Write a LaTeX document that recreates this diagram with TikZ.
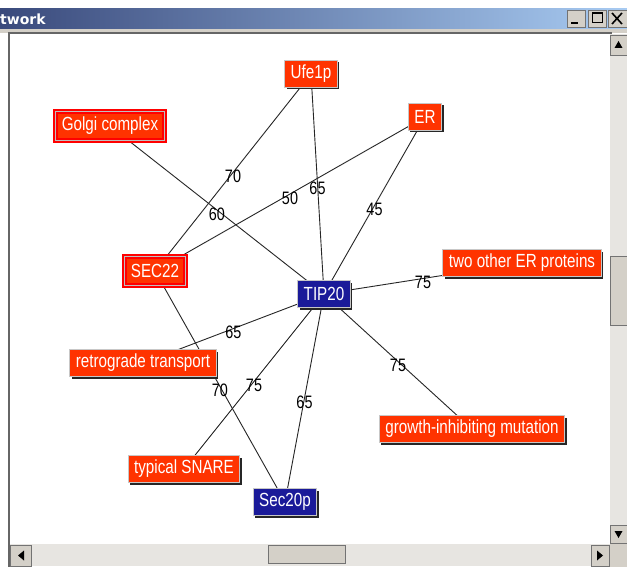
\documentclass[tikz,border=0pt]{standalone}
\usepackage{fontspec}
\setmainfont{Liberation Sans}
\newfontfamily\nodefont[FakeStretch=0.8]{Liberation Sans}
\newfontfamily\titlefont{DejaVu Sans}
\usetikzlibrary{shadows}
\definecolor{netRed}{HTML}{FF3300}
\definecolor{netBlue}{HTML}{1A1A99}
\definecolor{netSel}{HTML}{FF0000}
\definecolor{winGray}{HTML}{D4D0C8}
\definecolor{winTrack}{HTML}{E7E5E1}
\definecolor{barDark}{HTML}{3A4A7C}
\definecolor{barLight}{HTML}{A8CBF2}
\pgfdeclarelayer{chrome}
\pgfdeclarelayer{edges}
\pgfsetlayers{chrome,edges,main}
\tikzset{
  term/.style={rectangle, draw=black!22, line width=1pt, fill=netRed, text=white,
              inner xsep=6pt, inner ysep=0pt, minimum height=27pt,
              font=\nodefont\fontsize{19}{21}\selectfont,
              drop shadow={shadow xshift=2pt, shadow yshift=-2pt, opacity=1, fill=black!85}},
  gene/.style={term, fill=netBlue},
  picked/.style={rectangle, draw=netSel, double=black!25, double distance=1pt,
              line width=2pt, fill=netRed, text=white, inner xsep=6.5pt, inner ysep=0pt,
              minimum height=29pt, font=\nodefont\fontsize{19}{21}\selectfont},
  link/.style={draw=black!85, line width=0.9pt},
  wt/.style={font=\nodefont\fontsize{18}{20}\selectfont, text=black, inner sep=0pt, yshift=-4pt},
  btn/.style={fill=winGray, draw=black!55, line width=0.8pt},
}
\begin{document}
\begin{tikzpicture}[x=1pt,y=-1pt]
  \useasboundingbox (0,0) rectangle (627,567);
  % nodes
  \node[term]   (ufe)    at (311,74)  {Ufe1p};
  \node[picked] (golgi)  at (110,126) {Golgi complex};
  \node[term]   (er)     at (425,117) {ER};
  \node[picked] (sec22)  at (155,271) {SEC22};
  \node[gene]   (tip)    at (324,294) {TIP20};
  \node[term]   (other)  at (522,263) {two other ER proteins};
  \node[term]   (retro)  at (143,363) {retrograde transport};
  \node[term]   (snare)  at (184,469) {typical SNARE};
  \node[gene]   (sec20p) at (285,502) {Sec20p};
  \node[term]   (growth) at (472,429) {growth-inhibiting mutation};
  % links
  \begin{pgfonlayer}{edges}
    \foreach \a/\b/\w in {ufe/sec22/70, ufe/tip/65, golgi/tip/60, er/sec22/50, er/tip/45,
                          tip/other/75, tip/retro/65, tip/snare/75, tip/sec20p/65,
                          tip/growth/75, sec22/sec20p/70}{
      \draw[link] (\a.center) -- node[wt]{\w} (\b.center);
    }
  \end{pgfonlayer}
  % window
  \begin{pgfonlayer}{chrome}
    \fill[left color=barDark, right color=barLight] (0,9) rectangle (627,29);
    \node[font=\titlefont\bfseries\fontsize{14}{16}\selectfont, text=white, anchor=west,
          inner sep=0pt] (ttl) at (0,19) {twork};
    \draw[btn] (567,10) rectangle (585,27);
    \draw[line width=2pt] (571,23) -- (578,23);
    \draw[btn] (588,10) rectangle (606,27);
    \draw[line width=1pt] (592,13) rectangle (602,23);
    \draw[line width=1pt] (592,14) -- (602,14);
    \draw[btn] (608,10) rectangle (627,27);
    \draw[line width=1.6pt] (612,13) -- (622,24) (622,13) -- (612,24);
    \fill[winGray] (0,29) rectangle (627,33);
    \fill[white] (10,34) rectangle (610,544);
    \draw[black!60, line width=2pt] (9,567) -- (9,33) -- (612,33);
    % scrollbars
    \fill[winTrack] (610,34) rectangle (627,544);
    \fill[winTrack] (10,544) rectangle (610,566);
    \fill[winGray] (610,544) rectangle (627,567);
    \draw[btn] (610,35) rectangle (627,55);
    \fill (618.5,41) -- (622.5,48) -- (614.5,48) -- cycle;
    \draw[btn] (610,256) rectangle (627,325);
    \draw[btn] (610,525) rectangle (627,543);
    \fill (618.5,538) -- (622.5,531) -- (614.5,531) -- cycle;
    \draw[btn] (10,545) rectangle (31,566);
    \fill (18,555.5) -- (24,550.5) -- (24,560.5) -- cycle;
    \draw[btn] (268,545) rectangle (345,563);
    \draw[btn] (591,545) rectangle (609,566);
    \fill (603,555.5) -- (597,550.5) -- (597,560.5) -- cycle;
  \end{pgfonlayer}
\end{tikzpicture}
\end{document}
